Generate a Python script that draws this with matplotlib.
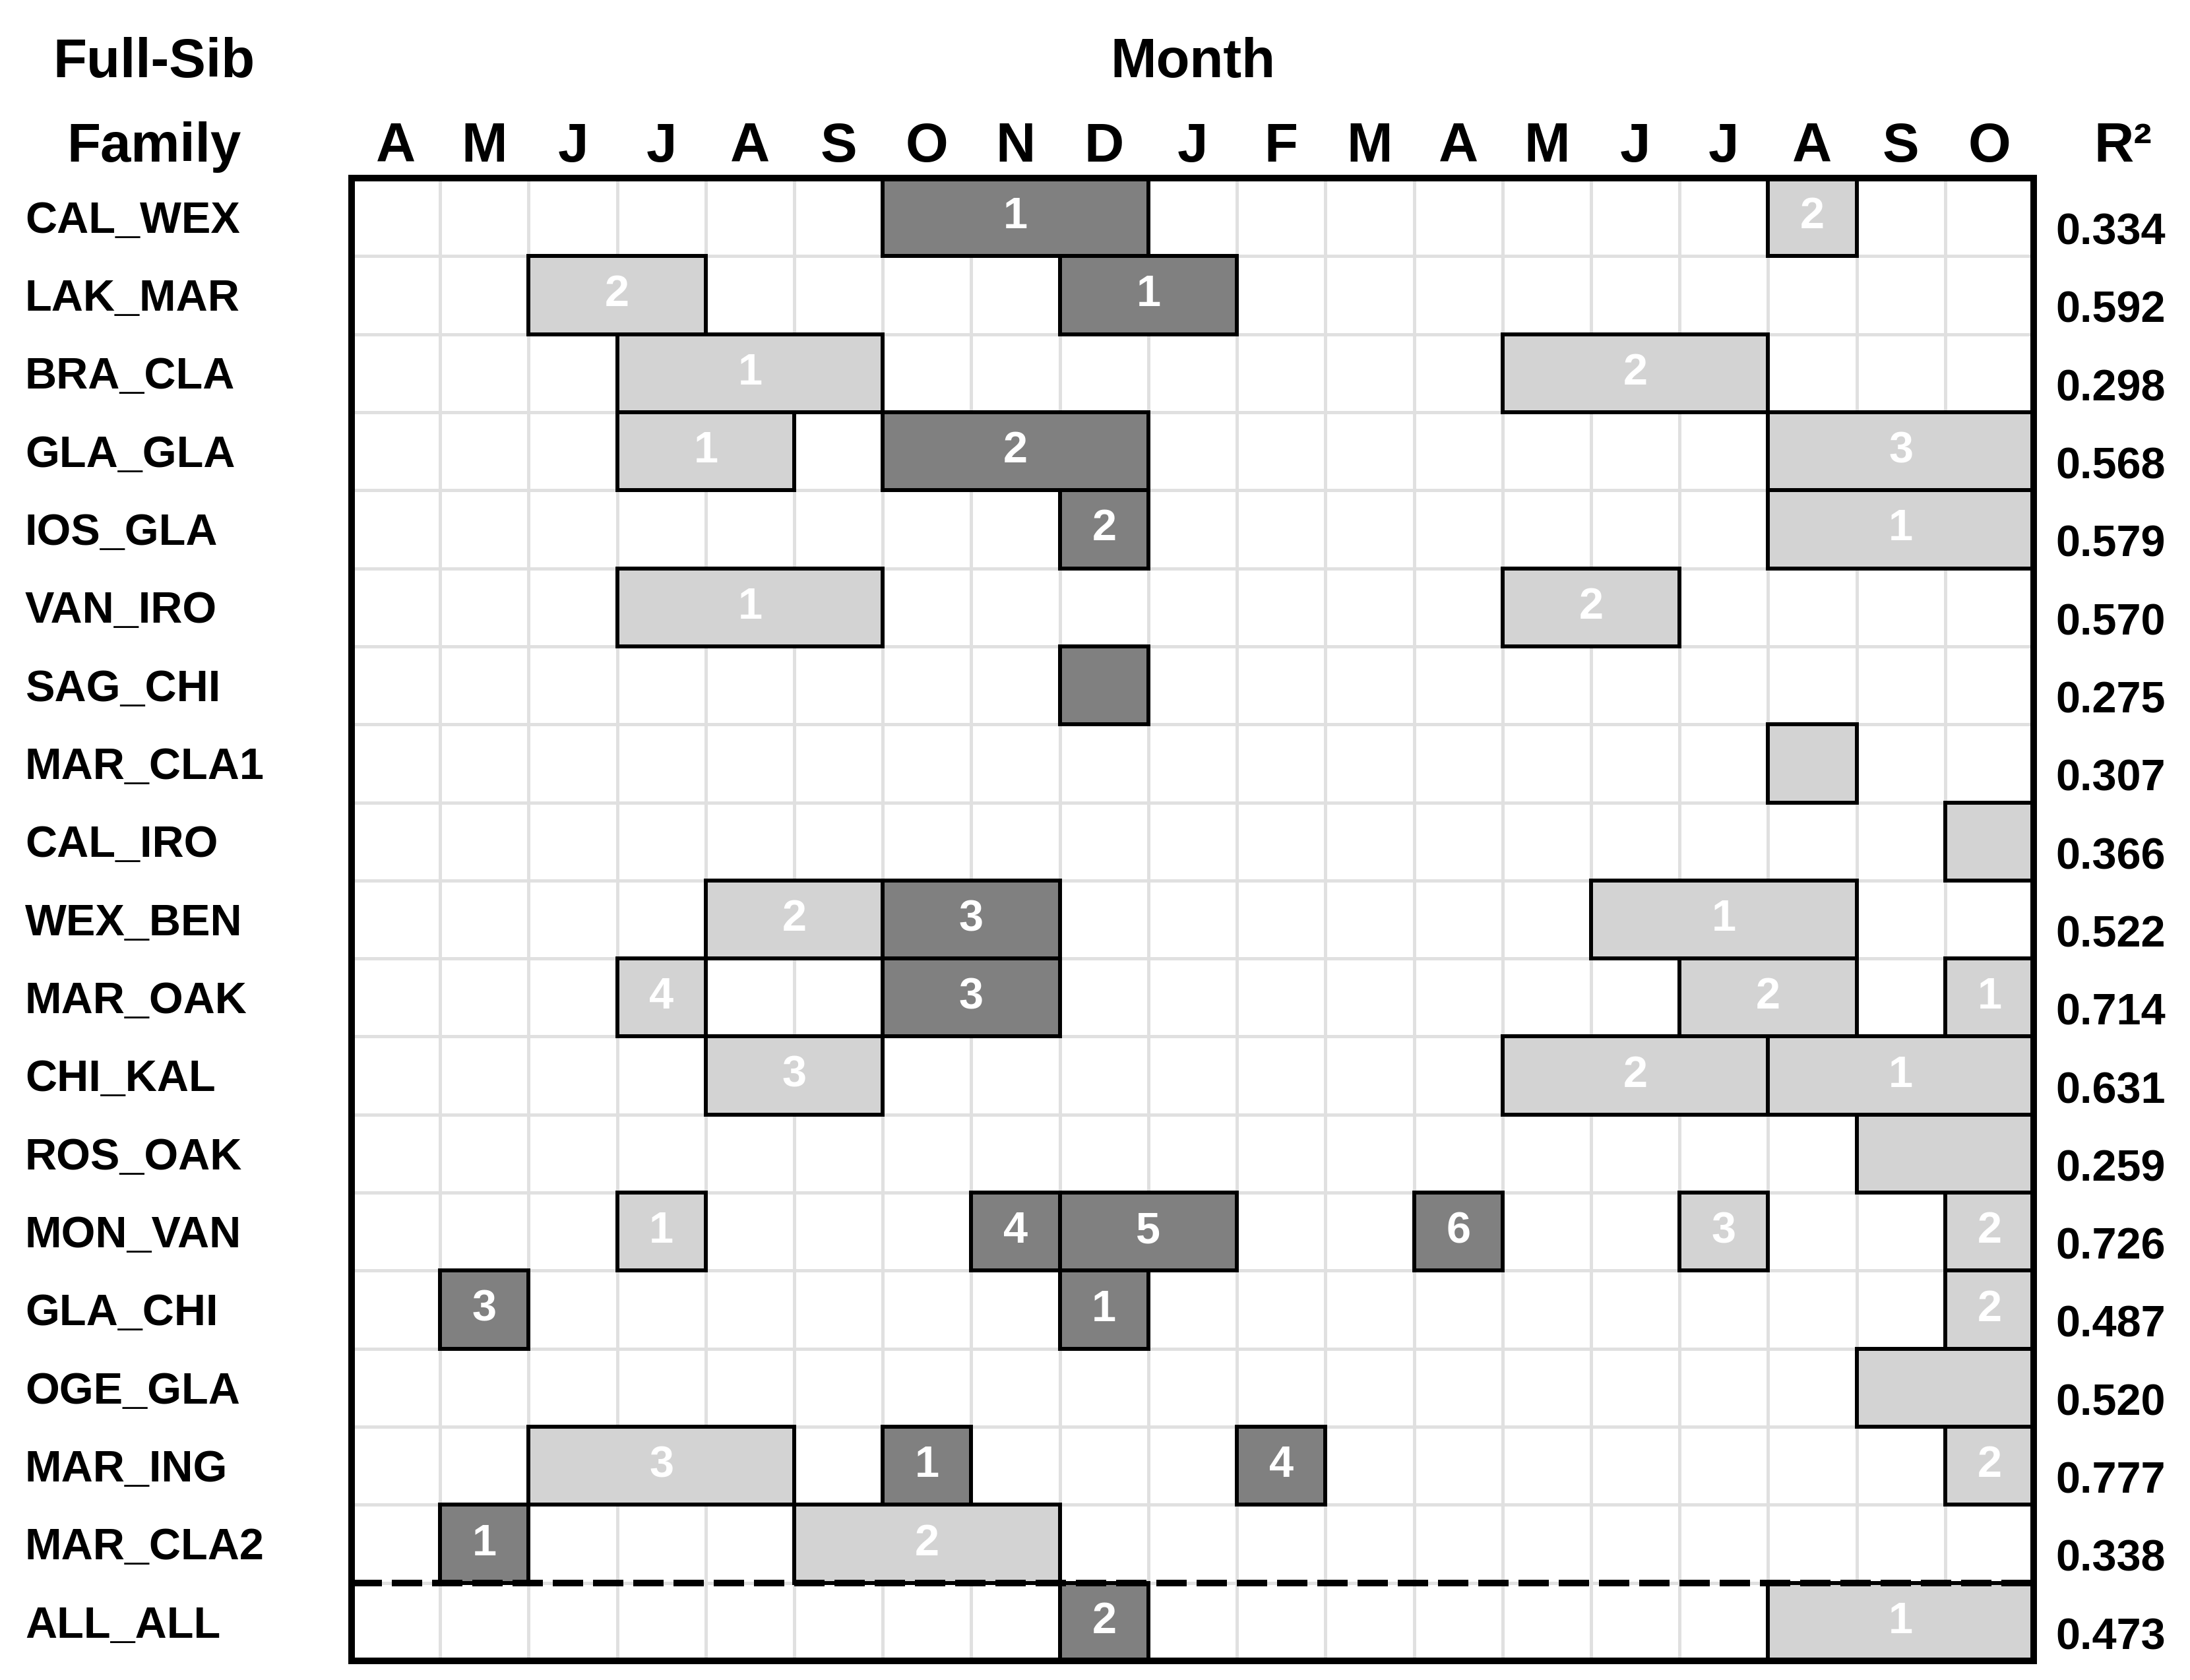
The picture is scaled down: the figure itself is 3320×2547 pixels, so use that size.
import matplotlib
matplotlib.use('Agg')
import matplotlib.pyplot as plt
import matplotlib.transforms as mtransforms
from matplotlib.patches import Rectangle

plt.rcParams['font.family'] = ['Liberation Sans', 'DejaVu Sans']
plt.rcParams['font.weight'] = 'bold'

# Dados
months = ['A', 'M', 'J', 'J', 'A', 'S', 'O', 'N', 'D', 'J', 'F', 'M', 'A', 'M', 'J', 'J', 'A', 'S', 'O']
families = ['CAL_WEX', 'LAK_MAR', 'BRA_CLA', 'GLA_GLA', 'IOS_GLA', 'VAN_IRO', 'SAG_CHI', 'MAR_CLA1',
            'CAL_IRO', 'WEX_BEN', 'MAR_OAK', 'CHI_KAL', 'ROS_OAK', 'MON_VAN', 'GLA_CHI', 'OGE_GLA',
            'MAR_ING', 'MAR_CLA2', 'ALL_ALL']
r2 = ['0.334', '0.592', '0.298', '0.568', '0.579', '0.570', '0.275', '0.307', '0.366', '0.522',
      '0.714', '0.631', '0.259', '0.726', '0.487', '0.520', '0.777', '0.338', '0.473']

# Blocos: linha, mes inicial, mes final, tipo (d = escuro, l = claro), rotulo
block_row = [0, 0, 1, 1, 2, 2, 3, 3, 3, 4, 4, 5, 5, 6, 7, 8, 9, 9, 9,
             10, 10, 10, 10, 11, 11, 11, 12, 13, 13, 13, 13, 13, 13,
             14, 14, 14, 15, 16, 16, 16, 16, 17, 17, 18, 18]
block_start = [6, 16, 2, 8, 3, 13, 3, 6, 16, 8, 16, 3, 13, 8, 16, 18, 4, 6, 14,
               3, 6, 15, 18, 4, 13, 16, 17, 3, 7, 8, 12, 15, 18,
               1, 8, 18, 17, 2, 6, 10, 18, 1, 5, 8, 16]
block_end = [8, 16, 3, 9, 5, 15, 4, 8, 18, 8, 18, 5, 14, 8, 16, 18, 5, 7, 16,
             3, 7, 16, 18, 5, 15, 18, 18, 3, 7, 9, 12, 15, 18,
             1, 8, 18, 18, 4, 6, 10, 18, 1, 7, 8, 18]
block_shade = ['d', 'l', 'l', 'd', 'l', 'l', 'l', 'd', 'l', 'd', 'l', 'l', 'l', 'd', 'l', 'l', 'l', 'd', 'l',
               'l', 'd', 'l', 'l', 'l', 'l', 'l', 'l', 'l', 'd', 'd', 'd', 'l', 'l',
               'd', 'd', 'l', 'l', 'l', 'd', 'd', 'l', 'd', 'l', 'd', 'l']
block_label = ['1', '2', '2', '1', '1', '2', '1', '2', '3', '2', '1', '1', '2', '', '', '', '2', '3', '1',
               '4', '3', '2', '1', '3', '2', '1', '', '1', '4', '5', '6', '3', '2',
               '3', '1', '2', '', '3', '1', '4', '2', '1', '2', '2', '1']

W, H = 3320, 2547
fig = plt.figure(figsize=(W / 100, H / 100), dpi=100)
left, right, top, bottom = 533, 3083, 270, 2518
ax = fig.add_axes([left / W, 1 - bottom / H, (right - left) / W, (bottom - top) / H])
n_rows, n_cols = len(families), len(months)
ax.set_xlim(0, n_cols)
ax.set_ylim(n_rows, 0)
ax.set_xticks([])
ax.set_yticks([])

# Grade
for i in range(1, n_cols):
    ax.axvline(i, color='#e0e0e0', lw=3.6, zorder=1)
for j in range(1, n_rows):
    ax.axhline(j, color='#e0e0e0', lw=3.6, zorder=1)

# Blocos
cores = {'d': '#808080', 'l': '#d3d3d3'}
for r, s, e, c, lab in zip(block_row, block_start, block_end, block_shade, block_label):
    ax.add_patch(Rectangle((s, r), e - s + 1, 1, facecolor=cores[c], edgecolor='black',
                           lw=4.3, zorder=3, clip_on=False))
    if lab:
        ax.text((s + e + 1) / 2, r + 0.5, lab, color='white', fontsize=48, fontweight='bold',
                ha='center', va='center', zorder=4)

# Linha tracejada antes de ALL_ALL
ax.axhline(n_rows - 1, color='black', lw=7.2, linestyle=(0, (4.6, 1.5)), zorder=5)

for sp in ax.spines.values():
    sp.set_linewidth(7.2)
    sp.set_zorder(6)

# Rotulos
trans = mtransforms.blended_transform_factory(fig.transFigure, ax.transData)
for j, (fam, val) in enumerate(zip(families, r2)):
    ax.text(38 / W, j + 0.7, fam, transform=trans, fontsize=48, fontweight='bold',
            ha='left', va='baseline')
    ax.text(3200 / W, j + 0.85, val, transform=trans, fontsize=48, fontweight='bold',
            ha='center', va='baseline')

trans2 = mtransforms.blended_transform_factory(ax.transData, fig.transFigure)
for i, m in enumerate(months):
    ax.text(i + 0.5, 1 - 245 / H, m, transform=trans2, fontsize=60, fontweight='bold',
            ha='center', va='baseline')

fig.text(233 / W, 1 - 117 / H, 'Full-Sib', fontsize=60, fontweight='bold', ha='center', va='baseline')
fig.text(233 / W, 1 - 245 / H, 'Family', fontsize=60, fontweight='bold', ha='center', va='baseline')
fig.text((left + right) / 2 / W, 1 - 117 / H, 'Month', fontsize=60, fontweight='bold', ha='center', va='baseline')
fig.text(3218 / W, 1 - 245 / H, 'R²', fontsize=60, fontweight='bold', ha='center', va='baseline')

fig.savefig('out.png', dpi=100, facecolor='white')
